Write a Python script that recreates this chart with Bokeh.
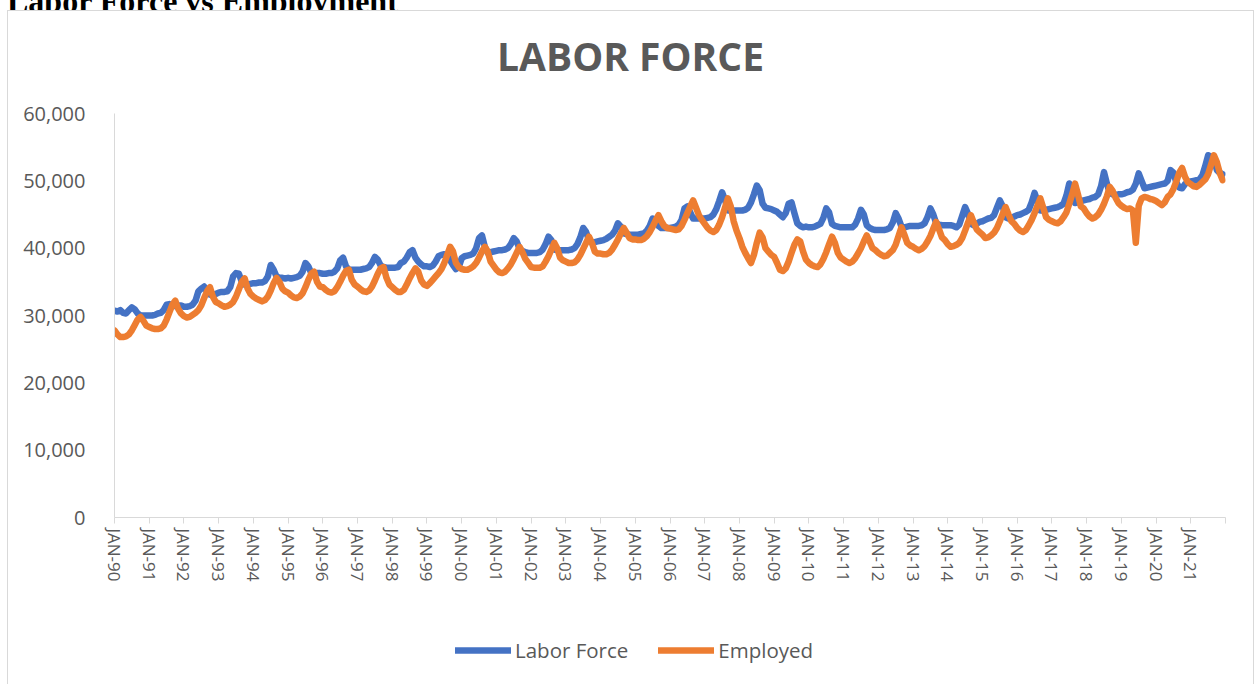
from bokeh.plotting import figure
from bokeh.layouts import column
from bokeh.models import (Range1d, FixedTicker, NumeralTickFormatter, Label, Div,
                          Legend, LegendItem, ColumnDataSource)
from bokeh.embed import file_html
from bokeh.resources import INLINE

# ---------------- data (monthly, Jan-1990 .. Dec-2021) ----------------
tick_labels = ["JAN-90", "JAN-91", "JAN-92", "JAN-93", "JAN-94", "JAN-95", "JAN-96",
               "JAN-97", "JAN-98", "JAN-99", "JAN-00", "JAN-01", "JAN-02", "JAN-03",
               "JAN-04", "JAN-05", "JAN-06", "JAN-07", "JAN-08", "JAN-09", "JAN-10",
               "JAN-11", "JAN-12", "JAN-13", "JAN-14", "JAN-15", "JAN-16", "JAN-17",
               "JAN-18", "JAN-19", "JAN-20", "JAN-21"]

labor_force = [
    30700, 30600, 30800, 30400, 30300, 30800, 31200, 30900, 30300, 30000, 30000, 30000,  # 1990
    30000, 30000, 30100, 30300, 30400, 30800, 31600, 31700, 31400, 31400, 31500, 31500,  # 1991
    31300, 31300, 31400, 31600, 32200, 33600, 34000, 34300, 33500, 33100, 33000, 33200,  # 1992
    33400, 33500, 33500, 33600, 34200, 35800, 36300, 36200, 35000, 34600, 34600, 34700,  # 1993
    34800, 34800, 34900, 34900, 35100, 35800, 37500, 36800, 35800, 35600, 35600, 35500,  # 1994
    35600, 35500, 35600, 35700, 35900, 36500, 37800, 37300, 36300, 36200, 36300, 36300,  # 1995
    36200, 36200, 36300, 36300, 36500, 37000, 38200, 38600, 37300, 36800, 36800, 36800,  # 1996
    36800, 36800, 36900, 37000, 37200, 37800, 38700, 38300, 37400, 37200, 37100, 37100,  # 1997
    37100, 37100, 37200, 37800, 38000, 38600, 39400, 39700, 38600, 38000, 37600, 37300,  # 1998
    37300, 37200, 37400, 38000, 38800, 39000, 39100, 38800, 38200, 37500, 36900, 37200,  # 1999
    38500, 38800, 38900, 39000, 39200, 40000, 41500, 41900, 40200, 39300, 39400, 39500,  # 2000
    39600, 39700, 39700, 39800, 40000, 40600, 41500, 41000, 39900, 39600, 39400, 39300,  # 2001
    39300, 39300, 39300, 39400, 39800, 40600, 41700, 41200, 39800, 39700, 39700, 39700,  # 2002
    39700, 39700, 39800, 40000, 40600, 41600, 43000, 42400, 41200, 40800, 40900, 41000,  # 2003
    41100, 41200, 41400, 41700, 42000, 42600, 43700, 43200, 42200, 42100, 42000, 42000,  # 2004
    42000, 42000, 42100, 42200, 42600, 43300, 44400, 44000, 43300, 43000, 43000, 43000,  # 2005
    43000, 43100, 43200, 43500, 44200, 45900, 46200, 45300, 44400, 44400, 44400, 44400,  # 2006
    44400, 44500, 44600, 45000, 45800, 47000, 48300, 47200, 45600, 45600, 45600, 45600,  # 2007
    45600, 45600, 45700, 46000, 46800, 48000, 49300, 48600, 46600, 46000, 45900, 45800,  # 2008
    45600, 45400, 45000, 44600, 45200, 46600, 46800, 45200, 43700, 43300, 43100, 43200,  # 2009
    43100, 43100, 43200, 43400, 43600, 44500, 45900, 45300, 43600, 43300, 43200, 43100,  # 2010
    43100, 43100, 43100, 43100, 43500, 44400, 45700, 45000, 43400, 43000, 42800, 42700,  # 2011
    42700, 42700, 42700, 42800, 43000, 43800, 45200, 44400, 43200, 43100, 43200, 43300,  # 2012
    43300, 43300, 43300, 43400, 43700, 44600, 45900, 45000, 43700, 43500, 43400, 43400,  # 2013
    43400, 43400, 43300, 43100, 43500, 44800, 46100, 45100, 43600, 43400, 43600, 43900,  # 2014
    44000, 44200, 44400, 44500, 44900, 46000, 47100, 46200, 44600, 44400, 44500, 44700,  # 2015
    44900, 45000, 45200, 45400, 45700, 46800, 48200, 47000, 45600, 45600, 45700, 45800,  # 2016
    45900, 46000, 46100, 46300, 46600, 47800, 49600, 48200, 46700, 46800, 47000, 47100,  # 2017
    47200, 47300, 47500, 47600, 48000, 49200, 51300, 49600, 48200, 48000, 47900, 48000,  # 2018
    48000, 48100, 48300, 48400, 48700, 49600, 51100, 50000, 48900, 49000, 49100, 49200,  # 2019
    49300, 49400, 49500, 49600, 50000, 51600, 51200, 49800, 49000, 48900, 49500, 49800,  # 2020
    49900, 50000, 50100, 50200, 50800, 52200, 53800, 53600, 53300, 51600, 51200, 51000,  # 2021
]

employed = [
    27800, 27200, 26800, 26800, 26900, 27200, 27800, 28600, 29400, 29800, 29200, 28500,  # 1990
    28300, 28100, 28000, 28000, 28100, 28500, 29400, 30500, 31600, 32200, 31000, 30300,  # 1991
    29900, 29700, 29800, 30100, 30400, 30800, 31500, 32600, 33600, 34200, 32800, 32000,  # 1992
    31800, 31500, 31300, 31400, 31600, 32000, 32800, 33900, 35000, 35500, 34000, 33200,  # 1993
    32800, 32500, 32300, 32100, 32300, 32800, 33700, 34800, 35600, 35000, 34000, 33600,  # 1994
    33400, 33000, 32700, 32600, 32800, 33300, 34200, 35300, 36200, 36500, 35000, 34300,  # 1995
    34200, 33800, 33500, 33400, 33600, 34200, 35000, 35900, 36600, 36800, 35300, 34600,  # 1996
    34300, 33900, 33600, 33500, 33700, 34300, 35200, 36200, 37000, 37200, 35600, 34600,  # 1997
    34200, 33800, 33500, 33500, 33800, 34600, 35500, 36300, 37000, 36500, 35200, 34600,  # 1998
    34400, 34800, 35300, 35800, 36300, 36900, 37800, 39000, 40200, 39500, 37800, 37200,  # 1999
    36900, 36800, 36800, 37000, 37300, 37800, 38600, 39500, 40200, 39500, 38000, 37400,  # 2000
    36800, 36400, 36300, 36500, 37000, 37600, 38400, 39300, 40200, 39400, 38400, 37800,  # 2001
    37200, 37100, 37100, 37100, 37300, 38000, 38800, 39800, 40800, 40000, 38600, 38200,  # 2002
    38000, 37800, 37800, 37900, 38300, 39000, 39900, 40800, 41700, 40800, 39500, 39200,  # 2003
    39200, 39100, 39100, 39300, 39800, 40500, 41300, 42200, 43000, 42300, 41500, 41300,  # 2004
    41300, 41200, 41200, 41400, 41800, 42400, 43200, 44100, 44900, 44000, 43300, 43000,  # 2005
    42900, 42800, 42700, 42800, 43300, 44200, 45200, 46200, 47100, 46000, 44900, 44200,  # 2006
    43600, 43000, 42600, 42400, 42700, 43500, 44600, 46000, 47400, 46200, 44000, 42600,  # 2007
    41500, 40200, 39300, 38500, 37800, 39000, 40800, 42300, 41600, 40000, 39500, 39000,  # 2008
    38700, 37800, 36800, 36600, 37000, 38000, 39300, 40500, 41300, 41000, 39500, 38300,  # 2009
    37800, 37500, 37300, 37200, 37600, 38400, 39400, 40600, 41700, 40800, 39300, 38600,  # 2010
    38300, 38000, 37800, 38000, 38500, 39200, 40000, 41000, 41900, 41000, 40000, 39700,  # 2011
    39300, 39000, 38800, 38900, 39300, 39700, 40500, 41800, 43100, 42000, 40800, 40400,  # 2012
    40200, 39900, 39700, 39900, 40300, 41000, 41800, 42900, 43900, 42800, 41600, 41200,  # 2013
    40600, 40200, 40300, 40500, 40800, 41500, 42600, 43800, 44900, 43800, 42800, 42400,  # 2014
    42000, 41500, 41600, 41900, 42300, 43000, 44000, 45100, 46100, 45000, 44000, 43600,  # 2015
    43000, 42600, 42400, 42700, 43400, 44200, 45200, 46300, 47400, 46000, 44600, 44200,  # 2016
    44000, 43800, 43700, 44000, 44600, 45300, 46600, 48000, 49600, 48000, 46200, 45900,  # 2017
    45200, 44700, 44400, 44600, 45000, 45700, 46600, 47700, 49100, 48500, 47500, 46700,  # 2018
    46300, 46000, 45800, 45900, 45600, 40800, 46300, 47400, 47600, 47500, 47300, 47200,  # 2019
    47000, 46700, 46400, 46800, 47600, 48000, 48800, 49900, 51200, 51900, 50600, 49800,  # 2020
    49500, 49200, 49100, 49400, 49800, 50200, 51000, 52400, 53800, 52800, 51200, 50100,  # 2021
]

series_names = ["Labor Force", "Employed"]
series_fields = ["lf", "emp"]
series_colors = ["#4472C4", "#ED7D31"]

GREY = "#595959"
AXIS = "#d9d9d9"
FONT = "Open Sans"
BORDER = "1px solid #d9d9d9"
W = 1245

n = len(labor_force)
src = ColumnDataSource(dict(m=list(range(n)), lf=labor_force, emp=employed))


def bare_figure(height):
    f = figure(width=W, height=height, output_backend="svg", toolbar_location=None,
               x_axis_location=None, y_axis_location=None, min_border=0,
               x_range=Range1d(0, 1), y_range=Range1d(0, 1))
    f.outline_line_color = None
    f.grid.visible = False
    f.background_fill_color = "white"
    f.border_fill_color = "white"
    return f


# ---------------- title strip (its frame is aligned with the chart's frame) ----------------
p_title = bare_figure(90)
p_title.add_layout(Label(x=516, y=46, x_units="screen", y_units="screen",
                         text="LABOR FORCE", text_font=FONT, text_font_style="bold",
                         text_font_size="39px", text_color=GREY,
                         text_align="center", text_baseline="middle"))

# ---------------- main chart ----------------
p = figure(width=W, height=510, output_backend="svg", toolbar_location=None,
           x_range=Range1d(0, 12 * len(tick_labels)), y_range=Range1d(0, 60000),
           min_border_left=106, min_border_right=28, min_border_top=12,
           min_border_bottom=94)
p.outline_line_color = None
p.xgrid.visible = False
p.ygrid.visible = False
p.background_fill_color = "white"
p.border_fill_color = "white"

for fld, col in zip(series_fields, series_colors):
    p.line("m", fld, source=src, line_color=col, line_width=6.5,
           line_join="round", line_cap="round")

ya = p.yaxis[0]
ya.ticker = FixedTicker(ticks=[0, 10000, 20000, 30000, 40000, 50000, 60000])
ya.formatter = NumeralTickFormatter(format="0,0")
ya.axis_line_color = AXIS
ya.major_tick_line_color = None
ya.minor_tick_line_color = None
ya.major_label_standoff = 23
ya.major_label_text_font = FONT
ya.major_label_text_font_size = "20px"
ya.major_label_text_color = GREY

xa = p.xaxis[0]
tick_pos = [12 * i for i in range(len(tick_labels) + 1)]
xa.ticker = FixedTicker(ticks=tick_pos)
overrides = {12 * i: lab for i, lab in enumerate(tick_labels)}
overrides[12 * len(tick_labels)] = ""
xa.major_label_overrides = overrides
xa.major_label_orientation = "vertical"
xa.axis_line_color = AXIS
xa.major_tick_line_color = AXIS
xa.major_tick_in = 0
xa.major_tick_out = 6
xa.minor_tick_line_color = None
xa.major_label_standoff = 5
xa.major_label_text_font = FONT
xa.major_label_text_font_size = "17px"
xa.major_label_text_color = GREY

# ---------------- legend strip ----------------
# legend renderers use the real series, kept out of view by the strip's 0..1 y range
p_leg = bare_figure(73)
items = []
for name, fld, col in zip(series_names, series_fields, series_colors):
    r = p_leg.line("m", fld, source=src, line_color=col, line_width=6.5,
                   line_cap="round")
    items.append(LegendItem(label=name, renderers=[r]))
legend = Legend(items=items, orientation="horizontal", location=(341, 20),
                padding=0, margin=0, spacing=30, glyph_width=56, glyph_height=20,
                label_standoff=4, border_line_color=None, background_fill_alpha=0,
                label_text_font=FONT, label_text_font_size="20.5px",
                label_text_color=GREY)
p_leg.add_layout(legend)

# ---------------- page ----------------
header = Div(text='<div style="white-space:nowrap;margin-top:-20px;line-height:31px;'
                  'font-family:\'Liberation Serif\';font-weight:bold;font-size:32px;'
                  'color:black;padding-left:7px">Labor Force vs Employment</div>',
             width=1256, height=10, margin=0, styles={"overflow": "hidden"})

chart = column(p_title, p, p_leg, spacing=0,
               styles={"margin-left": "7px", "border-top": BORDER,
                       "border-left": BORDER, "border-right": BORDER})
layout = column(header, chart, spacing=0)
open("out.html", "w").write(file_html(layout, INLINE))
